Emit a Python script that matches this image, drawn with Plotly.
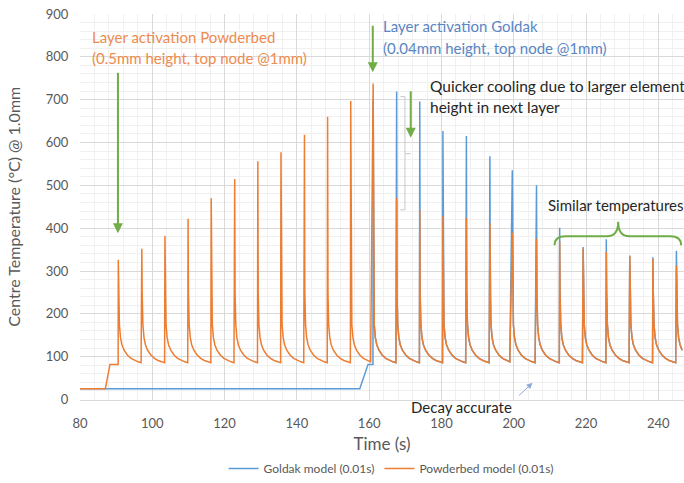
import plotly.graph_objects as go

# ---- data ----
peak_times = [90.6, 97.1, 103.5, 109.9, 116.3, 122.8, 129.2, 135.6, 142.1, 148.5,
              154.9, 161.1, 167.6, 174.0, 180.4, 186.9, 193.4, 199.6, 206.3, 212.7,
              219.2, 225.6, 232.1, 238.5, 245.0]
powder_peaks = [326, 352, 382, 422, 470, 515, 556, 577, 618, 660,
                697, 738, 470, 443, 428, 424, 412, 389, 375, 370,
                352, 345, 336, 328, 313]
goldak_peak_times = [161.1, 167.6, 174.0, 180.4, 186.9, 193.4, 199.6, 206.3, 212.7,
                     219.2, 225.6, 232.1, 238.5, 245.0]
goldak_peaks = [700, 719, 696, 627, 615, 568, 535, 500, 401,
                356, 374, 334, 332, 347]

# cooling curve after each spike (seconds after peak, temperature)
decay_dt = [0.1, 0.3, 0.6, 1.0, 1.6, 2.5, 3.5, 4.5, 5.5, 6.3]
decay_T = [250, 175, 145, 128, 115, 104, 96, 91, 88, 86]

# pre-activation segments (time, temperature)
powder_start_t = [80.0, 87.0, 88.3, 90.55]
powder_start_T = [25, 25, 82, 82]
goldak_start_t = [80.0, 157.4, 159.7, 161.05]
goldak_start_T = [25, 25, 82, 82]

t_end = 247.2


def build(start_t, start_T, times, peaks):
    xs, ys = list(start_t), list(start_T)
    for i, (t0, p) in enumerate(zip(times, peaks)):
        nxt = times[i + 1] if i + 1 < len(times) else t_end
        xs.append(t0)
        ys.append(p)
        for dt, v in zip(decay_dt, decay_T):
            if t0 + dt < nxt - 0.03:
                xs.append(round(t0 + dt, 3))
                ys.append(v)
    return xs, ys


gx, gy = build(goldak_start_t, goldak_start_T, goldak_peak_times, goldak_peaks)
px, py = build(powder_start_t, powder_start_T, peak_times, powder_peaks)

FONT = "Lato"
GREEN = "#70AD47"
BLUE = "#5B9BD5"
ORANGE = "#ED7D31"

fig = go.Figure()
fig.add_trace(go.Scatter(x=gx, y=gy, mode="lines", name="Goldak model (0.01s)",
                         line=dict(color=BLUE, width=1.5)))
fig.add_trace(go.Scatter(x=px, y=py, mode="lines", name="Powderbed model (0.01s)",
                         line=dict(color=ORANGE, width=1.5)))

fig.update_layout(
    width=684, height=483,
    margin=dict(l=80, r=0, t=14, b=77),
    paper_bgcolor="white", plot_bgcolor="white",
    font=dict(family=FONT, color="#595959", size=13),
    showlegend=True,
    legend=dict(orientation="h", x=0.515, xanchor="center", yref="container", y=-0.022,
                yanchor="bottom",
                font=dict(size=12, color="#595959"), bgcolor="rgba(0,0,0,0)"),
    xaxis=dict(range=[80, 247.1], dtick=20, tick0=80, showgrid=True, gridcolor="#D9D9D9",
               gridwidth=1, zeroline=False, showline=True, linecolor="#D9D9D9",
               ticks="outside", ticklen=12, tickcolor="rgba(0,0,0,0)",
               tickfont=dict(size=13, color="#595959"),
               title=dict(text="Time (s)", font=dict(size=17, color="#595959"), standoff=11),
               minor=dict(dtick=4, showgrid=True, gridcolor="#F0F0F0")),
    yaxis=dict(range=[0, 900], dtick=100, showgrid=True, gridcolor="#D9D9D9", gridwidth=1,
               zeroline=False, showline=False,
               ticks="outside", ticklen=8, tickcolor="rgba(0,0,0,0)",
               tickfont=dict(size=13, color="#595959"),
               title=dict(text="Centre Temperature (°C) @ 1.0mm",
                          font=dict(size=16, color="#595959"), standoff=21),
               minor=dict(dtick=20, showgrid=True, gridcolor="#F0F0F0")),
)

ann = []


def text(x, y, s, color, size=15, yref="y"):
    ann.append(dict(x=x, y=y, xref="x", yref=yref, text=s, showarrow=False,
                    xanchor="left", yanchor="middle",
                    font=dict(family=FONT, size=size, color=color)))


text(82.8, 847, "Layer activation Powderbed", "#EE8B4E")
text(82.8, 797, "(0.5mm height, top node @1mm)", "#EE8B4E")
text(163.4, 871, "Layer activation Goldak", "#5A86C4")
text(163.4, 821, "(0.04mm height, top node @1mm)", "#5A86C4")
text(176.3, 731, "Quicker cooling due to larger element", "#262626", size=15.5)
text(176.3, 683, "height in next layer", "#262626", size=15.5)
text(208.8, 454, "Similar temperatures", "#262626")
text(171.0, -0.02, "Decay accurate", "#262626", yref="paper")


def arrow(x, y, ax, ay, color, width, head=2, size=1.0):
    ann.append(dict(x=x, y=y, xref="x", yref="y", ax=ax, ay=ay, axref="pixel", ayref="pixel",
                    showarrow=True, arrowhead=head, arrowsize=size, arrowwidth=width,
                    arrowcolor=color, text=""))


arrow(90.5, 388, 0, -162, GREEN, 2)
arrow(161.0, 764, 0, -48, GREEN, 2)
arrow(171.5, 611, 0, -48, GREEN, 2)
arrow(205.2, 39, -15, 14, "#8FAADC", 1, head=2, size=1.2)

fig.update_layout(annotations=ann)

# grey bracket and green brace
fig.add_shape(type="path", xref="x", yref="y",
              path="M 168.6,707 L 169.9,707 L 169.9,443 L 168.6,443 M 169.9,574 L 171.5,574",
              line=dict(color="#C8C8C8", width=1))
fig.add_shape(type="path", xref="x", yref="y",
              path=("M 211.3,360 Q 211.3,381 214.3,381 L 225.8,381 Q 228.9,381 228.9,415 "
                    "Q 228.9,381 232.0,381 L 243.3,381 Q 246.3,381 246.3,360"),
              line=dict(color=GREEN, width=2))

fig.write_html("out.html")
